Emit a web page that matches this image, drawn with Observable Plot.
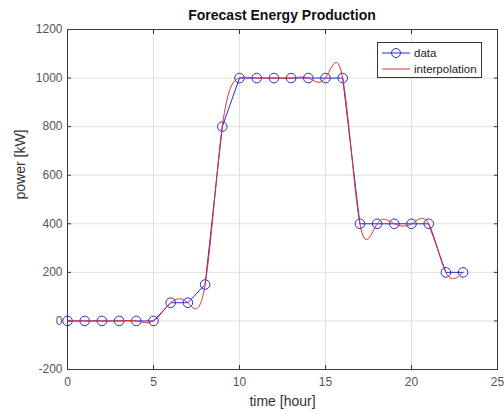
<!DOCTYPE html>
<html>
<head>
<meta charset="utf-8">
<script src="https://cdn.jsdelivr.net/npm/d3@7"></script>
<script src="https://cdn.jsdelivr.net/npm/@observablehq/plot@0.6"></script>
<style>
  html, body { margin: 0; padding: 0; background: #fff; }
  #wrap { position: relative; width: 504px; height: 416px; font-family: "Liberation Sans", Arial, sans-serif; }
  #title { position: absolute; left: 67px; width: 430px; top: 7px; text-align: center; font-weight: bold; font-size: 14px; color: #111; }
  #legend { position: absolute; left: 377px; top: 42px; width: 105px; height: 36px; border: 1px solid #333; background: #fff; font-size: 11.5px; color: #222; box-sizing: border-box; }
  #legend .row { display: flex; align-items: center; height: 16px; margin-left: 4px; }
  #legend .row:first-child { margin-top: 2px; }
  #legend svg { margin-right: 4px; }
</style>
</head>
<body>
<div id="wrap">
  <div id="chart"></div>
  <div id="title">Forecast Energy Production</div>
  <div id="legend">
    <div class="row"><svg width="28" height="12"><line x1="0" x2="28" y1="6" y2="6" stroke="#2b2bd0" stroke-width="1"/><circle cx="14" cy="6" r="4.5" fill="none" stroke="#2b2bd0"/></svg>data</div>
    <div class="row"><svg width="28" height="12"><line x1="0" x2="28" y1="6" y2="6" stroke="#e03232" stroke-width="1"/></svg>interpolation</div>
  </div>
</div>
<script>
const hours = [0,1,2,3,4,5,6,7,8,9,10,11,12,13,14,15,16,17,18,19,20,21,22,23];
const power = [0,0,0,0,0,0,75,75,150,800,1000,1000,1000,1000,1000,1000,1000,400,400,400,400,400,200,200];
const xTicks = [0,5,10,15,20,25];
const yTicks = [-200,0,200,400,600,800,1000,1200];

const data = hours.map((h, i) => ({hour: h, power: power[i]}));
const fmt = d => String(d);

const chart = Plot.plot({
  width: 504,
  height: 416,
  marginLeft: 67,
  marginRight: 7,
  marginTop: 29,
  marginBottom: 47,
  style: {fontFamily: "'Liberation Sans', Arial, sans-serif", fontSize: "12px", color: "#555", background: "#fff"},
  x: {domain: [0, 25], ticks: xTicks},
  y: {domain: [-200, 1200], ticks: yTicks},
  marks: [
    Plot.gridX(xTicks, {stroke: "#e0e0e0", strokeOpacity: 1}),
    Plot.gridY(yTicks, {stroke: "#e0e0e0", strokeOpacity: 1}),
    Plot.axisX(xTicks, {anchor: "bottom", tickSize: 0, tickPadding: 8, fontSize: 12, tickFormat: fmt, label: null}),
    Plot.axisX(xTicks, {anchor: "bottom", tickSize: -4, text: null, stroke: "#333", label: null}),
    Plot.axisX(xTicks, {anchor: "top", tickSize: -4, text: null, stroke: "#333", label: null}),
    Plot.axisY(yTicks, {anchor: "left", tickSize: 0, tickPadding: 5, fontSize: 12, tickFormat: fmt, label: null}),
    Plot.axisY(yTicks, {anchor: "left", tickSize: -4, text: null, stroke: "#333", label: null}),
    Plot.axisY(yTicks, {anchor: "right", tickSize: -4, text: null, stroke: "#333", label: null}),
    Plot.text(["time [hour]"], {frameAnchor: "bottom", dy: 36, fontSize: 14, fill: "#333"}),
    Plot.text(["power [kW]"], {frameAnchor: "left", dx: -47, rotate: -90, fontSize: 14, fill: "#333"}),
    Plot.frame({stroke: "#3a3a3a"}),
    Plot.line(data, {x: "hour", y: "power", stroke: "#2b2bd0", strokeWidth: 1}),
    Plot.dot(data, {x: "hour", y: "power", r: 4.8, stroke: "#2b2bd0", fill: "none", strokeWidth: 1}),
    Plot.line(data, {x: "hour", y: "power", curve: "natural", stroke: "#e03232", strokeWidth: 1})
  ]
});
document.getElementById("chart").appendChild(chart);
</script>
</body>
</html>
